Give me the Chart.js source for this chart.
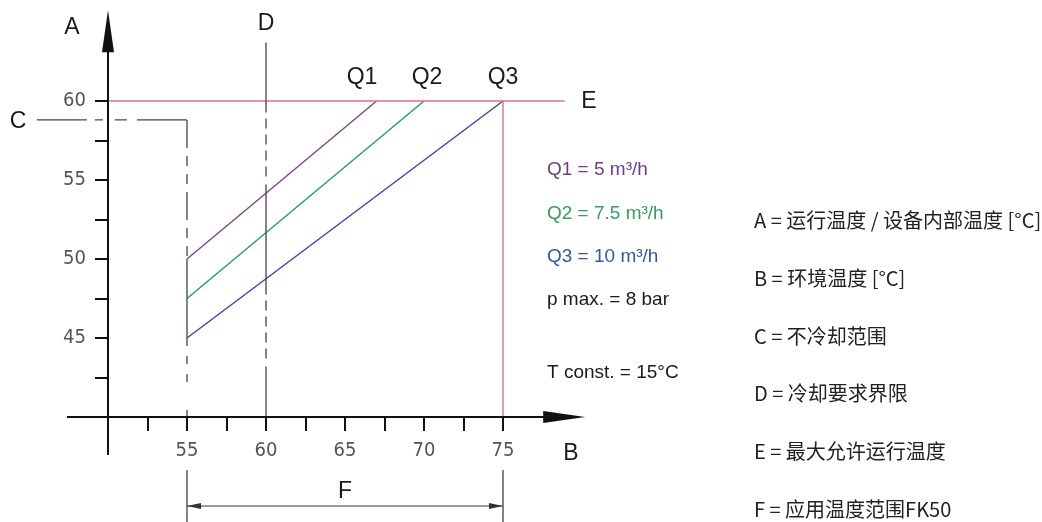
<!DOCTYPE html>
<html>
<head>
<meta charset="utf-8">
<script src="https://cdn.jsdelivr.net/npm/chart.js@4.4.1/dist/chart.umd.min.js"></script>
<style>
  body { margin: 0; background: #fff; }
  #wrap { position: relative; width: 1042px; height: 522px; }
  #legend {
    position: absolute; left: 754px; top: 191px;
    font-family: "Liberation Sans Narrow", "Noto Sans CJK SC", sans-serif;
    font-size: 20px; line-height: 57.8px; color: #222; white-space: nowrap;
  }
</style>
</head>
<body>
<div id="wrap">
  <canvas id="coolChart"></canvas>
  <div id="legend"></div>
</div>
<script>
// tick values on both axes
const ambientTicks = [52.5, 55, 57.5, 60, 62.5, 65, 67.5, 70, 72.5, 75];
const operatingTicks = [42.5, 45, 47.5, 50, 52.5, 55, 57.5, 60];

// flow curves (ambient temp -> operating temp)
const flowNames = ["Q1", "Q2", "Q3"];
const flowNotes = ["Q1 = 5 m³/h", "Q2 = 7.5 m³/h", "Q3 = 10 m³/h"];
const q1Ambient = [55, 67];
const q1Operating = [50, 60];
const q2Ambient = [55, 70];
const q2Operating = [47.5, 60];
const q3Ambient = [55, 75];
const q3Operating = [45, 60];

// limits
const maxOperating = 60;      // E
const coolingLimit = 60;      // D
const noCoolingLevel = 58.8;  // C
const rangeF = [55, 75];      // F

const otherNotes = ["p max. = 8 bar", "T const. = 15°C"];
const legendLines = [
    "A = 运行温度 / 设备内部温度 [°C]",
    "B = 环境温度 [°C]",
    "C = 不冷却范围",
    "D = 冷却要求界限",
    "E = 最大允许运行温度",
    "F = 应用温度范围FK50"
];

document.getElementById("legend").innerHTML = legendLines.map(t => `<div>${t}</div>`).join("");

const pts = (xs , ys) => xs.map((v , i) => ({ x: v , y: ys[i] }));

const flowColors = ["#7a4a8c" , "#2f9a5e" , "#3c4c9e"];
const textColors = ["#6e3f80" , "#3a9a60" , "#3a55a0"];
const limitRed = "#e07090";
const chainGray = "#444";

const chain = (data , dash , offset) => ({
    label: "C" ,
    data: data ,
    borderColor: chainGray ,
    borderWidth: 1.3 ,
    borderDash: dash ,
    borderDashOffset: offset || 0
});

const diagram = {
    id: "diagram" ,
    afterDatasetsDraw(chart) {
        const { ctx , scales: { x , y } } = chart;
        const px = v => x.getPixelForValue(v);
        const py = v => y.getPixelForValue(v);
        ctx.save();

        // axes with arrows
        ctx.strokeStyle = "#111";
        ctx.fillStyle = "#111";
        ctx.lineWidth = 2;
        const ox = px(50) , oy = py(40);
        const xTip = px(80.2) , yTip = py(65.75);
        ctx.beginPath();
        ctx.moveTo(px(47.4) , oy);
        ctx.lineTo(xTip - 40 , oy);
        ctx.moveTo(ox , py(37.6));
        ctx.lineTo(ox , yTip + 40);
        ctx.stroke();
        ctx.beginPath();
        ctx.moveTo(xTip , oy);
        ctx.lineTo(xTip - 42 , oy - 6);
        ctx.lineTo(xTip - 42 , oy + 6);
        ctx.closePath();
        ctx.fill();
        ctx.beginPath();
        ctx.moveTo(ox , yTip);
        ctx.lineTo(ox - 6 , yTip + 42);
        ctx.lineTo(ox + 6 , yTip + 42);
        ctx.closePath();
        ctx.fill();

        // F dimension
        const f0 = px(rangeF[0]) , f1 = px(rangeF[1]);
        ctx.strokeStyle = "#333";
        ctx.fillStyle = "#333";
        ctx.lineWidth = 1.2;
        ctx.beginPath();
        ctx.moveTo(f0 , 470); ctx.lineTo(f0 , 522);
        ctx.moveTo(f1 , 470); ctx.lineTo(f1 , 522);
        ctx.moveTo(f0 , 506); ctx.lineTo(f1 , 506);
        ctx.stroke();
        [[f0 , 1] , [f1 , -1]].forEach(([tx , d]) => {
            ctx.beginPath();
            ctx.moveTo(tx , 506);
            ctx.lineTo(tx + d * 14 , 503);
            ctx.lineTo(tx + d * 14 , 509);
            ctx.closePath();
            ctx.fill();
        });

        // letters
        ctx.fillStyle = "#1a1a1a";
        ctx.font = "23px 'Liberation Sans', Arial, sans-serif";
        ctx.textAlign = "center";
        ctx.textBaseline = "middle";
        ctx.fillText("A" , 72 , 28);
        ctx.fillText("D" , px(coolingLimit) , 24);
        ctx.fillText("C" , 18 , 122);
        ctx.fillText("E" , 589 , py(maxOperating) + 1);
        ctx.fillText("B" , 571 , 454);
        ctx.fillText("F" , (f0 + f1) / 2 , 492);
        [362 , 427 , 503].forEach((lx , i) => ctx.fillText(flowNames[i] , lx , 78));

        // notes
        ctx.textAlign = "left";
        ctx.font = "19px 'Liberation Sans', Arial, sans-serif";
        flowNotes.forEach((t , i) => {
            ctx.fillStyle = textColors[i];
            ctx.fillText(t , 547 , 170 + i * 43.5);
        });
        ctx.fillStyle = "#1a1a1a";
        ctx.fillText(otherNotes[0] , 547 , 300);
        ctx.fillText(otherNotes[1] , 547 , 373);
        ctx.restore();
    }
};

const tickFont = { family: "'Liberation Sans Narrow', 'DejaVu Sans Condensed', sans-serif" , size: 20 };

new Chart(document.getElementById("coolChart") , {
    type: "scatter" ,
    data: {
        datasets: [
            chain([{ x: 45.5 , y: noCoolingLevel } , { x: rangeF[0] , y: noCoolingLevel }] , [50 , 8 , 8 , 12 , 12 , 10]) ,
            chain([{ x: rangeF[0] , y: noCoolingLevel } , { x: rangeF[0] , y: q1Operating[0] }] , [28 , 8 , 10 , 8 , 10 , 8]) ,
            chain([{ x: rangeF[0] , y: q1Operating[0] } , { x: rangeF[0] , y: q3Operating[0] }] , []) ,
            chain([{ x: rangeF[0] , y: q3Operating[0] } , { x: rangeF[0] , y: 40 }] , [8 , 10 , 8 , 10 , 8 , 28]) ,
            {
                label: "D" ,
                data: [{ x: coolingLimit , y: 63.7 } , { x: coolingLimit , y: 40 }] ,
                borderColor: chainGray ,
                borderWidth: 1.3 ,
                borderDash: [110 , 6 , 10 , 6 , 10 , 6 , 10 , 6 , 10 , 8] ,
                borderDashOffset: 40
            } ,
            {
                label: "E" ,
                data: [{ x: 50 , y: maxOperating } , { x: 78.9 , y: maxOperating }] ,
                borderColor: limitRed ,
                borderWidth: 1.4
            } ,
            {
                label: "E2" ,
                data: [{ x: rangeF[1] , y: maxOperating } , { x: rangeF[1] , y: 40 }] ,
                borderColor: limitRed ,
                borderWidth: 1.4
            } ,
            { label: flowNames[0] , data: pts(q1Ambient , q1Operating) , borderColor: flowColors[0] , borderWidth: 1.5 } ,
            { label: flowNames[1] , data: pts(q2Ambient , q2Operating) , borderColor: flowColors[1] , borderWidth: 1.5 } ,
            { label: flowNames[2] , data: pts(q3Ambient , q3Operating) , borderColor: flowColors[2] , borderWidth: 1.5 }
        ]
    } ,
    options: {
        responsive: true ,
        maintainAspectRatio: false ,
        animation: false ,
        events: [] ,
        layout: { padding: { left: 0 , top: 22 , right: 460 , bottom: 0 } } ,
        datasets: {
            scatter: { showLine: true , pointRadius: 0 , clip: false , fill: false }
        } ,
        scales: {
            x: {
                type: "linear" ,
                min: 50 ,
                max: 80 ,
                afterBuildTicks: s => { s.ticks = ambientTicks.map(v => ({ value: v })); } ,
                afterFit: s => { s.height = 105; } ,
                border: { display: false } ,
                grid: { drawOnChartArea: false , color: "#111" , lineWidth: 2 , tickLength: 14 } ,
                ticks: {
                    autoSkip: false ,
                    maxRotation: 0 ,
                    padding: 8 ,
                    color: "#555" ,
                    font: tickFont ,
                    callback: v => v % 5 === 0 ? String(v) : ""
                }
            } ,
            y: {
                type: "linear" ,
                min: 40 ,
                max: 65 ,
                afterBuildTicks: s => { s.ticks = operatingTicks.map(v => ({ value: v })); } ,
                afterFit: s => { s.width = 108; } ,
                border: { display: false } ,
                grid: { drawOnChartArea: false , color: "#111" , lineWidth: 2 , tickLength: 13 } ,
                ticks: {
                    autoSkip: false ,
                    padding: 9 ,
                    color: "#555" ,
                    font: tickFont ,
                    callback: v => v % 5 === 0 ? String(v) : ""
                }
            }
        } ,
        plugins: {
            legend: { display: false } ,
            tooltip: { enabled: false }
        }
    } ,
    plugins: [diagram]
});
</script>
</body>
</html>
